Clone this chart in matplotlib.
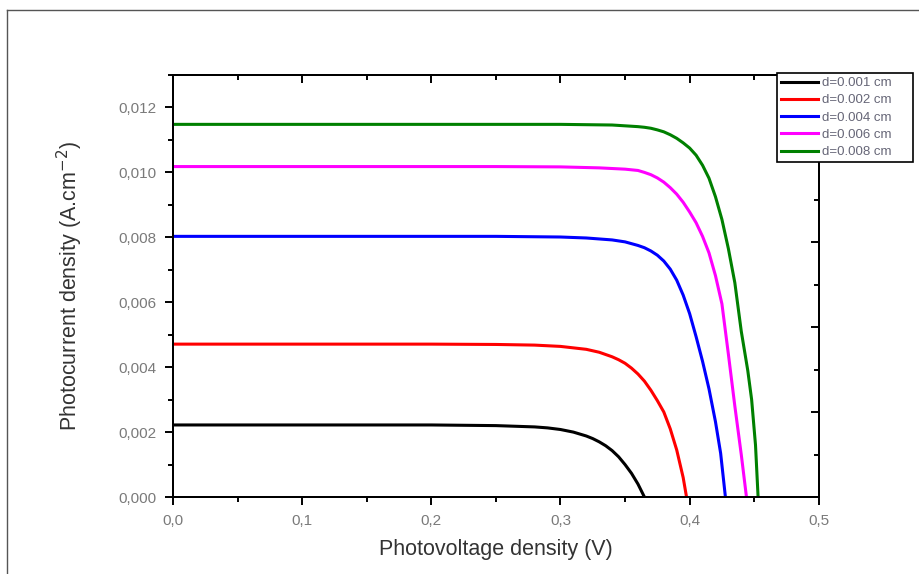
import matplotlib
matplotlib.use('Agg')
import matplotlib.pyplot as plt
from matplotlib.lines import Line2D
from matplotlib.ticker import MultipleLocator

plt.rcParams['font.family'] = ['Liberation Sans', 'DejaVu Sans']

# photovoltage (V) and photocurrent density (A/cm2)
v_001 = [0.0, 0.10, 0.20, 0.25, 0.28, 0.29, 0.30, 0.31, 0.32, 0.325, 0.33, 0.335, 0.34, 0.345, 0.35, 0.355, 0.36, 0.365]
j_001 = [0.00222, 0.00222, 0.00222, 0.00220, 0.00216, 0.00213, 0.00208, 0.00200, 0.00188, 0.00180, 0.00170, 0.00158, 0.00143, 0.00124, 0.00100, 0.00073, 0.00040, 0.0]

v_002 = [0.0, 0.10, 0.20, 0.25, 0.28, 0.30, 0.32, 0.33, 0.34, 0.345, 0.35, 0.355, 0.36, 0.365, 0.37, 0.375, 0.38, 0.385, 0.39, 0.395, 0.3976]
j_002 = [0.00471, 0.00471, 0.00471, 0.00470, 0.00468, 0.00464, 0.00455, 0.00446, 0.00432, 0.00423, 0.00412, 0.00397, 0.00379, 0.00357, 0.00329, 0.00297, 0.00262, 0.00210, 0.00145, 0.00060, 0.0]

v_004 = [0.0, 0.10, 0.20, 0.25, 0.30, 0.32, 0.34, 0.35, 0.36, 0.365, 0.37, 0.375, 0.38, 0.385, 0.39, 0.395, 0.40, 0.405, 0.41, 0.415, 0.42, 0.424, 0.4277]
j_004 = [0.00803, 0.00803, 0.00803, 0.00803, 0.00801, 0.00798, 0.00792, 0.00786, 0.00775, 0.00768, 0.00758, 0.00745, 0.00727, 0.00702, 0.00668, 0.00622, 0.00565, 0.00494, 0.00418, 0.00333, 0.00232, 0.00135, 0.0]

v_006 = [0.0, 0.10, 0.20, 0.25, 0.30, 0.33, 0.35, 0.36, 0.365, 0.37, 0.375, 0.38, 0.385, 0.39, 0.395, 0.40, 0.405, 0.41, 0.415, 0.42, 0.425, 0.43, 0.435, 0.44, 0.444]
j_006 = [0.01018, 0.01018, 0.01018, 0.01018, 0.01017, 0.01014, 0.01010, 0.01006, 0.01000, 0.00993, 0.00983, 0.00970, 0.00953, 0.00933, 0.00908, 0.00878, 0.00845, 0.00803, 0.00752, 0.00682, 0.00595, 0.00440, 0.00280, 0.00130, 0.0]

v_008 = [0.0, 0.10, 0.20, 0.25, 0.30, 0.34, 0.36, 0.365, 0.37, 0.375, 0.38, 0.385, 0.39, 0.395, 0.40, 0.405, 0.41, 0.415, 0.42, 0.425, 0.43, 0.435, 0.44, 0.445, 0.448, 0.451, 0.453]
j_008 = [0.01148, 0.01148, 0.01148, 0.01148, 0.01148, 0.01146, 0.01141, 0.01139, 0.01136, 0.01131, 0.01125, 0.01116, 0.01105, 0.01091, 0.01075, 0.01053, 0.01022, 0.00982, 0.00925, 0.00855, 0.00765, 0.00660, 0.00510, 0.00390, 0.00300, 0.00160, 0.0]

labels = ['d=0.001 cm', 'd=0.002 cm', 'd=0.004 cm', 'd=0.006 cm', 'd=0.008 cm']
colors = ['black', 'red', 'blue', 'magenta', 'green']

xticks = [0.0, 0.1, 0.2, 0.3, 0.4, 0.5]
xtick_labels = ['0,0', '0,1', '0,2', '0,3', '0,4', '0,5']
yticks = [0.000, 0.002, 0.004, 0.006, 0.008, 0.010, 0.012]
ytick_labels = ['0,000', '0,002', '0,004', '0,006', '0,008', '0,010', '0,012']

fig = plt.figure(figsize=(9.2, 5.74), dpi=100)
ax = fig.add_axes([0.188, 0.1341, 0.702, 0.7352])

series = [(v_001, j_001), (v_002, j_002), (v_004, j_004), (v_006, j_006), (v_008, j_008)]
for (v, j), lab, c in zip(series, labels, colors):
    ax.plot(v, j, color=c, lw=2.2, label=lab, solid_joinstyle='round')

ax.set_xlim(0, 0.5)
ax.set_ylim(0, 0.013)
ax.set_xticks(xticks)
ax.set_xticklabels(xtick_labels)
ax.set_yticks(yticks)
ax.set_yticklabels(ytick_labels)
ax.xaxis.set_minor_locator(MultipleLocator(0.05))
ax.yaxis.set_minor_locator(MultipleLocator(0.001))
ax.tick_params(which='major', direction='out', length=6, width=1.4, labelsize=11,
               labelcolor='#7a7a7a', pad=6)
ax.tick_params(which='minor', direction='out', length=3.5, width=1.4)
for s in ax.spines.values():
    s.set_linewidth(1.4)

# mirrored ticks on top (same scale) and right side (its own spacing, as in the original)
top = ax.secondary_xaxis('top')
top.set_xticks(xticks)
top.xaxis.set_minor_locator(MultipleLocator(0.05))
top.tick_params(which='major', direction='in', length=6, width=1.4, labeltop=False)
top.tick_params(which='minor', direction='in', length=3.5, width=1.4)
top.spines['top'].set_linewidth(1.4)

right = ax.twinx()
right.set_ylim(0, 4.965)
right.set_yticks([1, 2, 3, 4])
right.yaxis.set_minor_locator(MultipleLocator(0.5))
right.tick_params(which='major', direction='in', length=6, width=1.4, labelright=False)
right.tick_params(which='minor', direction='in', length=3.5, width=1.4)
for s in right.spines.values():
    s.set_linewidth(1.4)

ax.set_xlabel('Photovoltage density (V)', fontsize=15.5, color='#333333', labelpad=8)
ax.set_ylabel('Photocurrent density (A.cm$^{-2}$)', fontsize=15.5, color='#333333', labelpad=24)

h, l = ax.get_legend_handles_labels()
leg = fig.legend(h, l, loc='upper left', bbox_to_anchor=(777/920, 1-73/574, 136/920, 0),
                 mode='expand', fontsize=9.5, frameon=True, fancybox=False, framealpha=1,
                 edgecolor='black', handlelength=2.8, handletextpad=0.3, labelspacing=0.38,
                 borderpad=0.3, borderaxespad=0)
leg.get_frame().set_linewidth(1.2)
for t in leg.get_texts():
    t.set_color('#666677')

# outer frame of the original figure window
fig.add_artist(Line2D([7/920, 7/920], [0, 1-10/574], color='#555555', lw=1))
fig.add_artist(Line2D([7/920, 1], [1-10/574, 1-10/574], color='#555555', lw=1))

fig.savefig('out.png', dpi=100)
